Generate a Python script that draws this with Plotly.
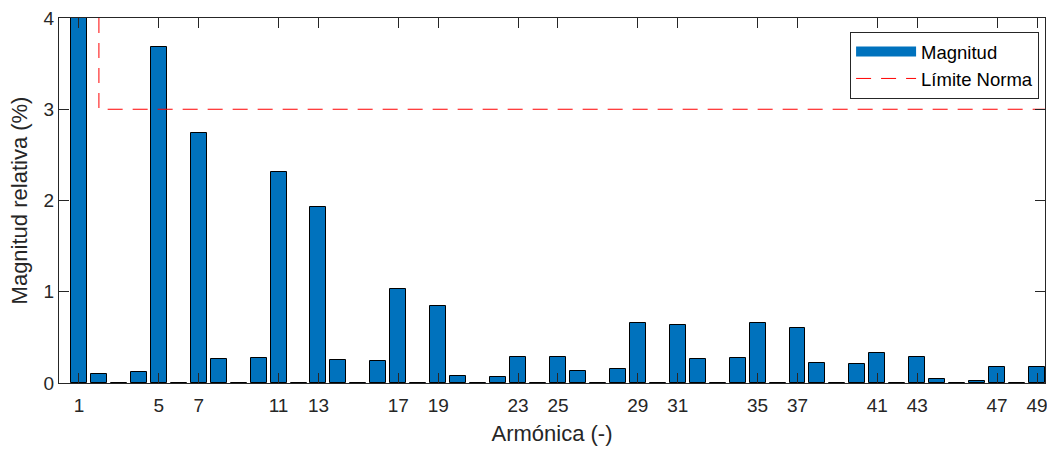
import plotly.graph_objects as go

# Armonicos y magnitud relativa (%) respecto a la fundamental
armonicos = list(range(1, 50))
magnitud = [
    100.0, 0.10, 0.0, 0.12, 3.68, 0.0, 2.74, 0.26, 0.0, 0.27,
    2.31, 0.0, 1.93, 0.25, 0.0, 0.24, 1.025, 0.0, 0.84, 0.08,
    0.0, 0.063, 0.28, 0.0, 0.28, 0.135, 0.0, 0.15, 0.655, 0.0,
    0.633, 0.26, 0.0, 0.27, 0.655, 0.0, 0.60, 0.22, 0.0, 0.21,
    0.33, 0.0, 0.29, 0.048, 0.0, 0.026, 0.17, 0.0, 0.18,
]

# Limite de la norma (escalon en el armonico 2)
limite_h = [2, 2, 50]
limite_val = [100, 3, 3]

ticks_x = [1, 5, 7, 11, 13, 17, 19, 23, 25, 29, 31, 35, 37, 41, 43, 47, 49]
ticks_y = [0, 1, 2, 3, 4]

AZUL = "#0072BD"
GRIS = "#262626"
FUENTE = "Liberation Sans, Arial, sans-serif"

fig = go.Figure()
fig.add_trace(go.Bar(
    x=armonicos, y=magnitud, width=0.8, name="Magnitud", showlegend=False,
    marker=dict(color=AZUL, line=dict(color="black", width=1)),
))
# entrada de leyenda con rectangulo ancho (estilo MATLAB)
fig.add_trace(go.Scatter(
    x=[None], y=[None], mode="lines", name="Magnitud",
    line=dict(color=AZUL, width=16),
))
fig.add_trace(go.Scatter(
    x=limite_h, y=limite_val, mode="lines", name="Límite Norma",
    line=dict(color="#FF0000", width=1, dash="15px,10px"),
))

fig.update_layout(
    width=1047, height=449,
    margin=dict(l=59, r=2, t=18, b=66),
    plot_bgcolor="white", paper_bgcolor="white",
    font=dict(family=FUENTE, size=19, color=GRIS),
    showlegend=True,
    legend=dict(
        x=0.994, y=0.962, xanchor="right", yanchor="top",
        bgcolor="white", bordercolor=GRIS, borderwidth=1,
        font=dict(size=18.5, color="black"),
        tracegroupgap=0, itemwidth=60,
    ),
    bargap=0,
)
fig.update_xaxes(
    range=[0, 49.4], tickvals=ticks_x, ticks="inside", ticklen=10,
    tickcolor=GRIS, showline=True, linecolor=GRIS, linewidth=1,
    mirror="ticks", showgrid=False, zeroline=False, automargin=False,
    ticklabeloverflow="allow", ticklabelstandoff=5,
    title=dict(text="Armónica (-)", font=dict(size=22), standoff=10),
)
fig.update_yaxes(
    range=[0, 4], tickvals=ticks_y, ticks="inside", ticklen=10,
    tickcolor=GRIS, showline=True, linecolor=GRIS, linewidth=1,
    mirror="ticks", showgrid=False, zeroline=False, automargin=False,
    title=dict(text="Magnitud relativa (%)", font=dict(size=22), standoff=9),
)

# sin margen del body para que la figura ocupe la ventana exacta
fig.write_html("out.html", config={"displayModeBar": False},
               post_script="document.body.style.margin='0';")
